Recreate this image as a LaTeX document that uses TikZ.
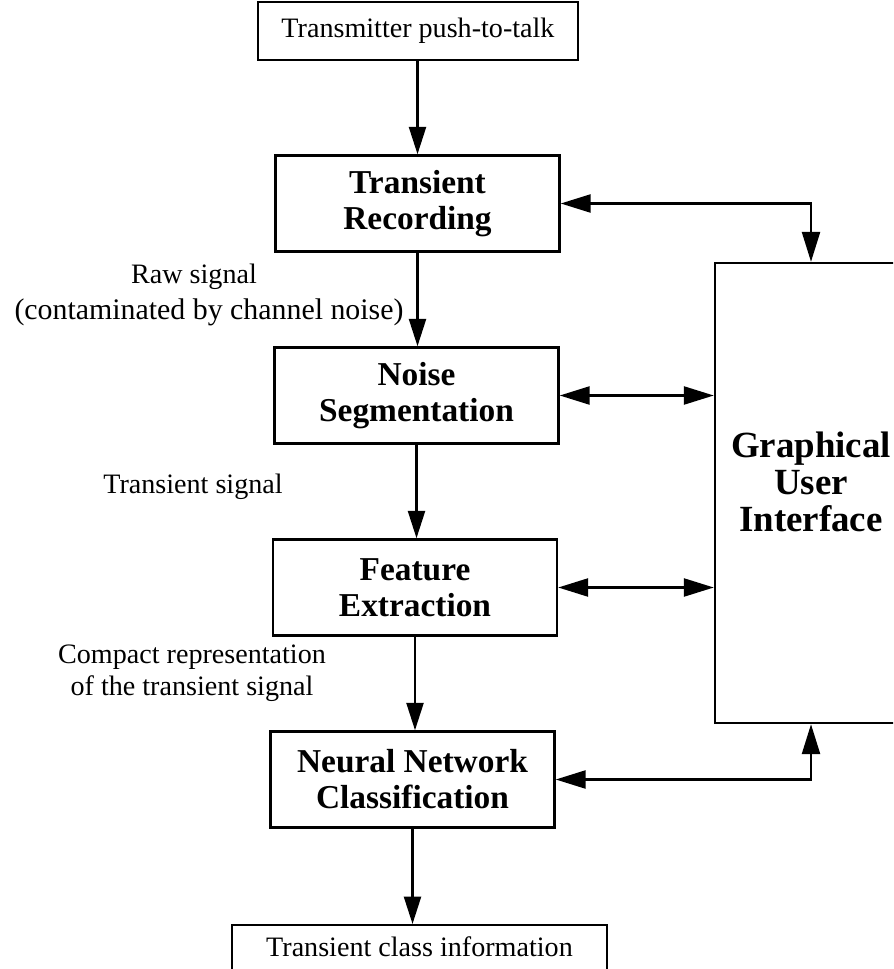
\documentclass[tikz,border=0pt]{standalone}
\usepackage{fontspec}
\setmainfont{Liberation Serif}
\usetikzlibrary{arrows.meta}
\newcommand{\blkfont}{\bfseries\fontsize{19}{20.5}\selectfont}
\newcommand{\guifont}{\bfseries\fontsize{21}{21}\selectfont}
\newcommand{\txtfont}{\fontsize{16}{18}\selectfont}

\begin{document}
\begin{tikzpicture}[x=0.02cm, y=-0.02cm,
		blk/.style={draw, line width=1.4pt, align=center, inner sep=0pt, font=\blkfont, minimum width=5.68cm, minimum height=1.92cm},
		iobox/.style={draw, line width=1.4pt, inner sep=0pt, font=\txtfont},
		lbl/.style={align=center, inner sep=0pt, font=\txtfont},
		flow/.style={line width=1.4pt, -{Triangle[length=5.5mm, width=3.4mm]}},
		twoway/.style={line width=1.4pt, {Triangle[length=6mm, width=3.6mm]}-{Triangle[length=6mm, width=3.6mm]}}]
		%%%%% START %%%%%
		
		\useasboundingbox (0, 0) rectangle (893, 969);
		\clip (0, 0) rectangle (893, 969);
		
		\node[iobox, minimum width=6.4cm, minimum height=1.16cm] (ptt) at (418, 31) {Transmitter push-to-talk};
		
		\node[blk] (rec) at (417.5, 203.5) {Transient\\Recording};
		\node[blk] (seg) at (416.5, 395.5) {Noise\\Segmentation};
		\node[blk] (feat) at (415, 587.5) {Feature\\Extraction};
		\node[blk] (nnc) at (412.5, 779.5) {Neural Network\\Classification};
		
		\node[iobox, anchor=north, minimum width=7.5cm, text height=0.62cm, text depth=1cm] (cls) at (419.5, 924) {Transient class information};
		
		\node[draw, line width=1.4pt, minimum width=3.84cm, minimum height=9.2cm] (gui) at (811, 493) {};
		\node[align=center, font=\guifont] (guitxt) at (811, 482) {Graphical\\User\\Interface};
		
		\node[lbl] (rawa) at (194, 277) {Raw signal};
		\node[lbl, font=\fontsize{17}{18}\selectfont] (rawb) at (209, 312) {(contaminated by channel noise)};
		\node[lbl] (trsig) at (193, 487) {Transient signal};
		\node[lbl] (cmp) at (192, 673) {Compact representation\\of the transient signal};
		
		\draw[flow] (ptt.south -| rec) -- (rec);
		\draw[flow] (rec) -- (rec |- seg.north);
		\draw[flow] (seg) -- (seg |- feat.north);
		\draw[flow] (feat) -- (feat |- nnc.north);
		\draw[flow] (nnc) -- (nnc |- cls.north);
		
		\draw[twoway] (rec.east) -| (gui.north);
		\draw[twoway] (seg.east) -- (seg.east -| gui.west);
		\draw[twoway] (feat.east) -- (feat.east -| gui.west);
		\draw[twoway] (nnc.east) -| (gui.south);
		
		%%%%% END %%%%%
	\end{tikzpicture}
\end{document}
